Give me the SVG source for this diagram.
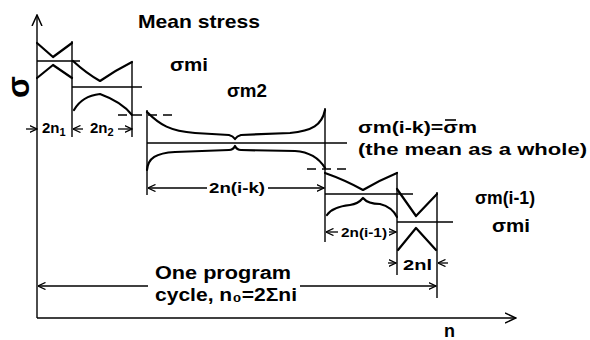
<svg xmlns="http://www.w3.org/2000/svg" width="590" height="340" viewBox="0 0 590 340">
<style>
.ln{stroke:#000;stroke-width:1.4;fill:none}
.cv{stroke:#000;stroke-width:2.2;fill:none;stroke-linejoin:round;stroke-linecap:round}
.ds{stroke:#000;stroke-width:1.4;fill:none;stroke-dasharray:9,6}
.t{font-family:"Liberation Sans",Arial,sans-serif;font-weight:bold;fill:#000}
.ar{stroke:#000;stroke-width:1.3;fill:none;marker-end:url(#ah)}
</style>
<defs>
<marker id="ah" viewBox="0 0 8 8" refX="7.5" refY="4" markerWidth="8" markerHeight="8" markerUnits="userSpaceOnUse" orient="auto">
<path d="M0,0.5 L7.5,4 L0,7.5" fill="none" stroke="#000" stroke-width="1.3"/>
</marker>
<marker id="big" viewBox="0 0 12 12" refX="11" refY="6" markerWidth="12" markerHeight="12" markerUnits="userSpaceOnUse" orient="auto">
<path d="M0,1 L11,6 L0,11" fill="none" stroke="#000" stroke-width="1.5"/>
</marker>
</defs>

<g id="axes">
<line class="ln" x1="37" y1="318" x2="37" y2="15" marker-end="url(#big)"/>
<line class="ln" x1="37" y1="318" x2="516" y2="318" marker-end="url(#big)"/>
<text class="t" transform="translate(29,87) rotate(-90)" font-size="32" font-weight="normal" text-anchor="middle">σ</text>
<text class="t" x="444" y="337" font-size="18">n</text>
</g>

<g id="block1">
<path class="cv" d="M37,43 L53,57 L72,43"/>
<path class="cv" d="M37,78 L53,65 L72,78"/>
<line class="ln" x1="37" y1="61" x2="80" y2="61"/>
</g>

<g id="block2">
<line class="ln" x1="72" y1="41" x2="72" y2="137"/>
<path class="cv" d="M73,61 Q86,73 100,81 Q116,70 132,62"/>
<path class="cv" d="M74,110 Q82,96 100,94 Q122,102 132,115"/>
<line class="ln" x1="132" y1="62" x2="132" y2="137"/>
<line class="ln" x1="72" y1="87" x2="142" y2="87"/>
</g>

<g id="block3">
<line class="ln" x1="147" y1="110" x2="147" y2="195"/>
<path class="cv" d="M147,112 C160,125 170,131 195,133 L229,135 Q233,136 235,139 Q237,136 241,135 L290,133 C312,131 322,125 325,110"/>
<path class="cv" d="M147,170 C148,158 156,153 175,152 L229,150 Q233,150 235,146 Q237,150 241,150 L295,151 C310,152 319,158 325,168"/>
<line class="ln" x1="147" y1="143" x2="347" y2="143"/>
<line class="ln" x1="325" y1="108" x2="325" y2="242"/>
</g>

<g id="block4">
<path class="cv" d="M325,173 Q345,180 363,190 Q380,180 397,173"/>
<path class="cv" d="M327,215 Q332,207 350,205 Q358,204 363,198 Q368,204 380,204 Q392,207 397,217"/>
<line class="ln" x1="325" y1="194" x2="413" y2="194"/>
<line class="ln" x1="397" y1="172" x2="397" y2="275"/>
</g>

<g id="block5">
<path class="cv" d="M397,189 L416,216 L437,194"/>
<path class="cv" d="M398,250 L416,228 L436,250"/>
<line class="ln" x1="397" y1="222" x2="453" y2="222"/>
<line class="ln" x1="437" y1="192" x2="437" y2="298"/>
</g>

<g id="dashes">
<line class="ds" x1="118" y1="115" x2="173" y2="115"/>
<line class="ds" x1="307" y1="169" x2="351" y2="169"/>
</g>

<g id="connectors">
<line class="ar" x1="26" y1="129" x2="37" y2="129"/>
<line class="ar" x1="83" y1="129" x2="73" y2="129"/>
<line class="ar" x1="118" y1="129" x2="132" y2="129"/>
<line class="ar" x1="207" y1="188" x2="148" y2="188"/>
<line class="ar" x1="268" y1="188" x2="324" y2="188"/>
<line class="ar" x1="338" y1="232" x2="326" y2="232"/>
<line class="ar" x1="389" y1="232" x2="396" y2="232"/>
<line class="ar" x1="388" y1="263" x2="396" y2="263"/>
<line class="ar" x1="448" y1="263" x2="438" y2="263"/>
<line class="ar" x1="148" y1="286" x2="38" y2="286"/>
<line class="ar" x1="300" y1="286" x2="436" y2="286"/>
</g>

<g id="labels">
<text class="t" x="138" y="28" font-size="19" textLength="122" lengthAdjust="spacingAndGlyphs">Mean stress</text>
<text class="t" x="170" y="71" font-size="19" textLength="38" lengthAdjust="spacingAndGlyphs">σmi</text>
<text class="t" x="227" y="97" font-size="18" textLength="40" lengthAdjust="spacingAndGlyphs">σm2</text>
<text class="t" x="358" y="133" font-size="17" textLength="119" lengthAdjust="spacingAndGlyphs">σm(i-k)=σm</text>
<line x1="445" y1="120" x2="456" y2="120" stroke="#000" stroke-width="1.6"/>
<text class="t" x="358" y="155" font-size="17" textLength="229" lengthAdjust="spacingAndGlyphs">(the mean as a whole)</text>
<text class="t" x="475" y="204" font-size="18" textLength="60" lengthAdjust="spacingAndGlyphs">σm(i-1)</text>
<text class="t" x="492" y="232" font-size="18" textLength="38" lengthAdjust="spacingAndGlyphs">σmi</text>
<text class="t" x="42" y="133" font-size="15">2n<tspan font-size="11" dy="3">1</tspan></text>
<text class="t" x="90" y="133" font-size="15">2n<tspan font-size="11" dy="3">2</tspan></text>
<text class="t" x="209" y="193" font-size="14" textLength="56" lengthAdjust="spacingAndGlyphs">2n(i-k)</text>
<text class="t" x="341" y="237" font-size="13" textLength="46" lengthAdjust="spacingAndGlyphs">2n(i-1)</text>
<text class="t" x="403" y="270" font-size="15" textLength="29" lengthAdjust="spacingAndGlyphs">2nl</text>
<text class="t" x="155" y="279" font-size="18" textLength="136" lengthAdjust="spacingAndGlyphs">One program</text>
<text class="t" x="155" y="301" font-size="18" textLength="142" lengthAdjust="spacingAndGlyphs">cycle, n₀=2Σni</text>
</g>
</svg>
